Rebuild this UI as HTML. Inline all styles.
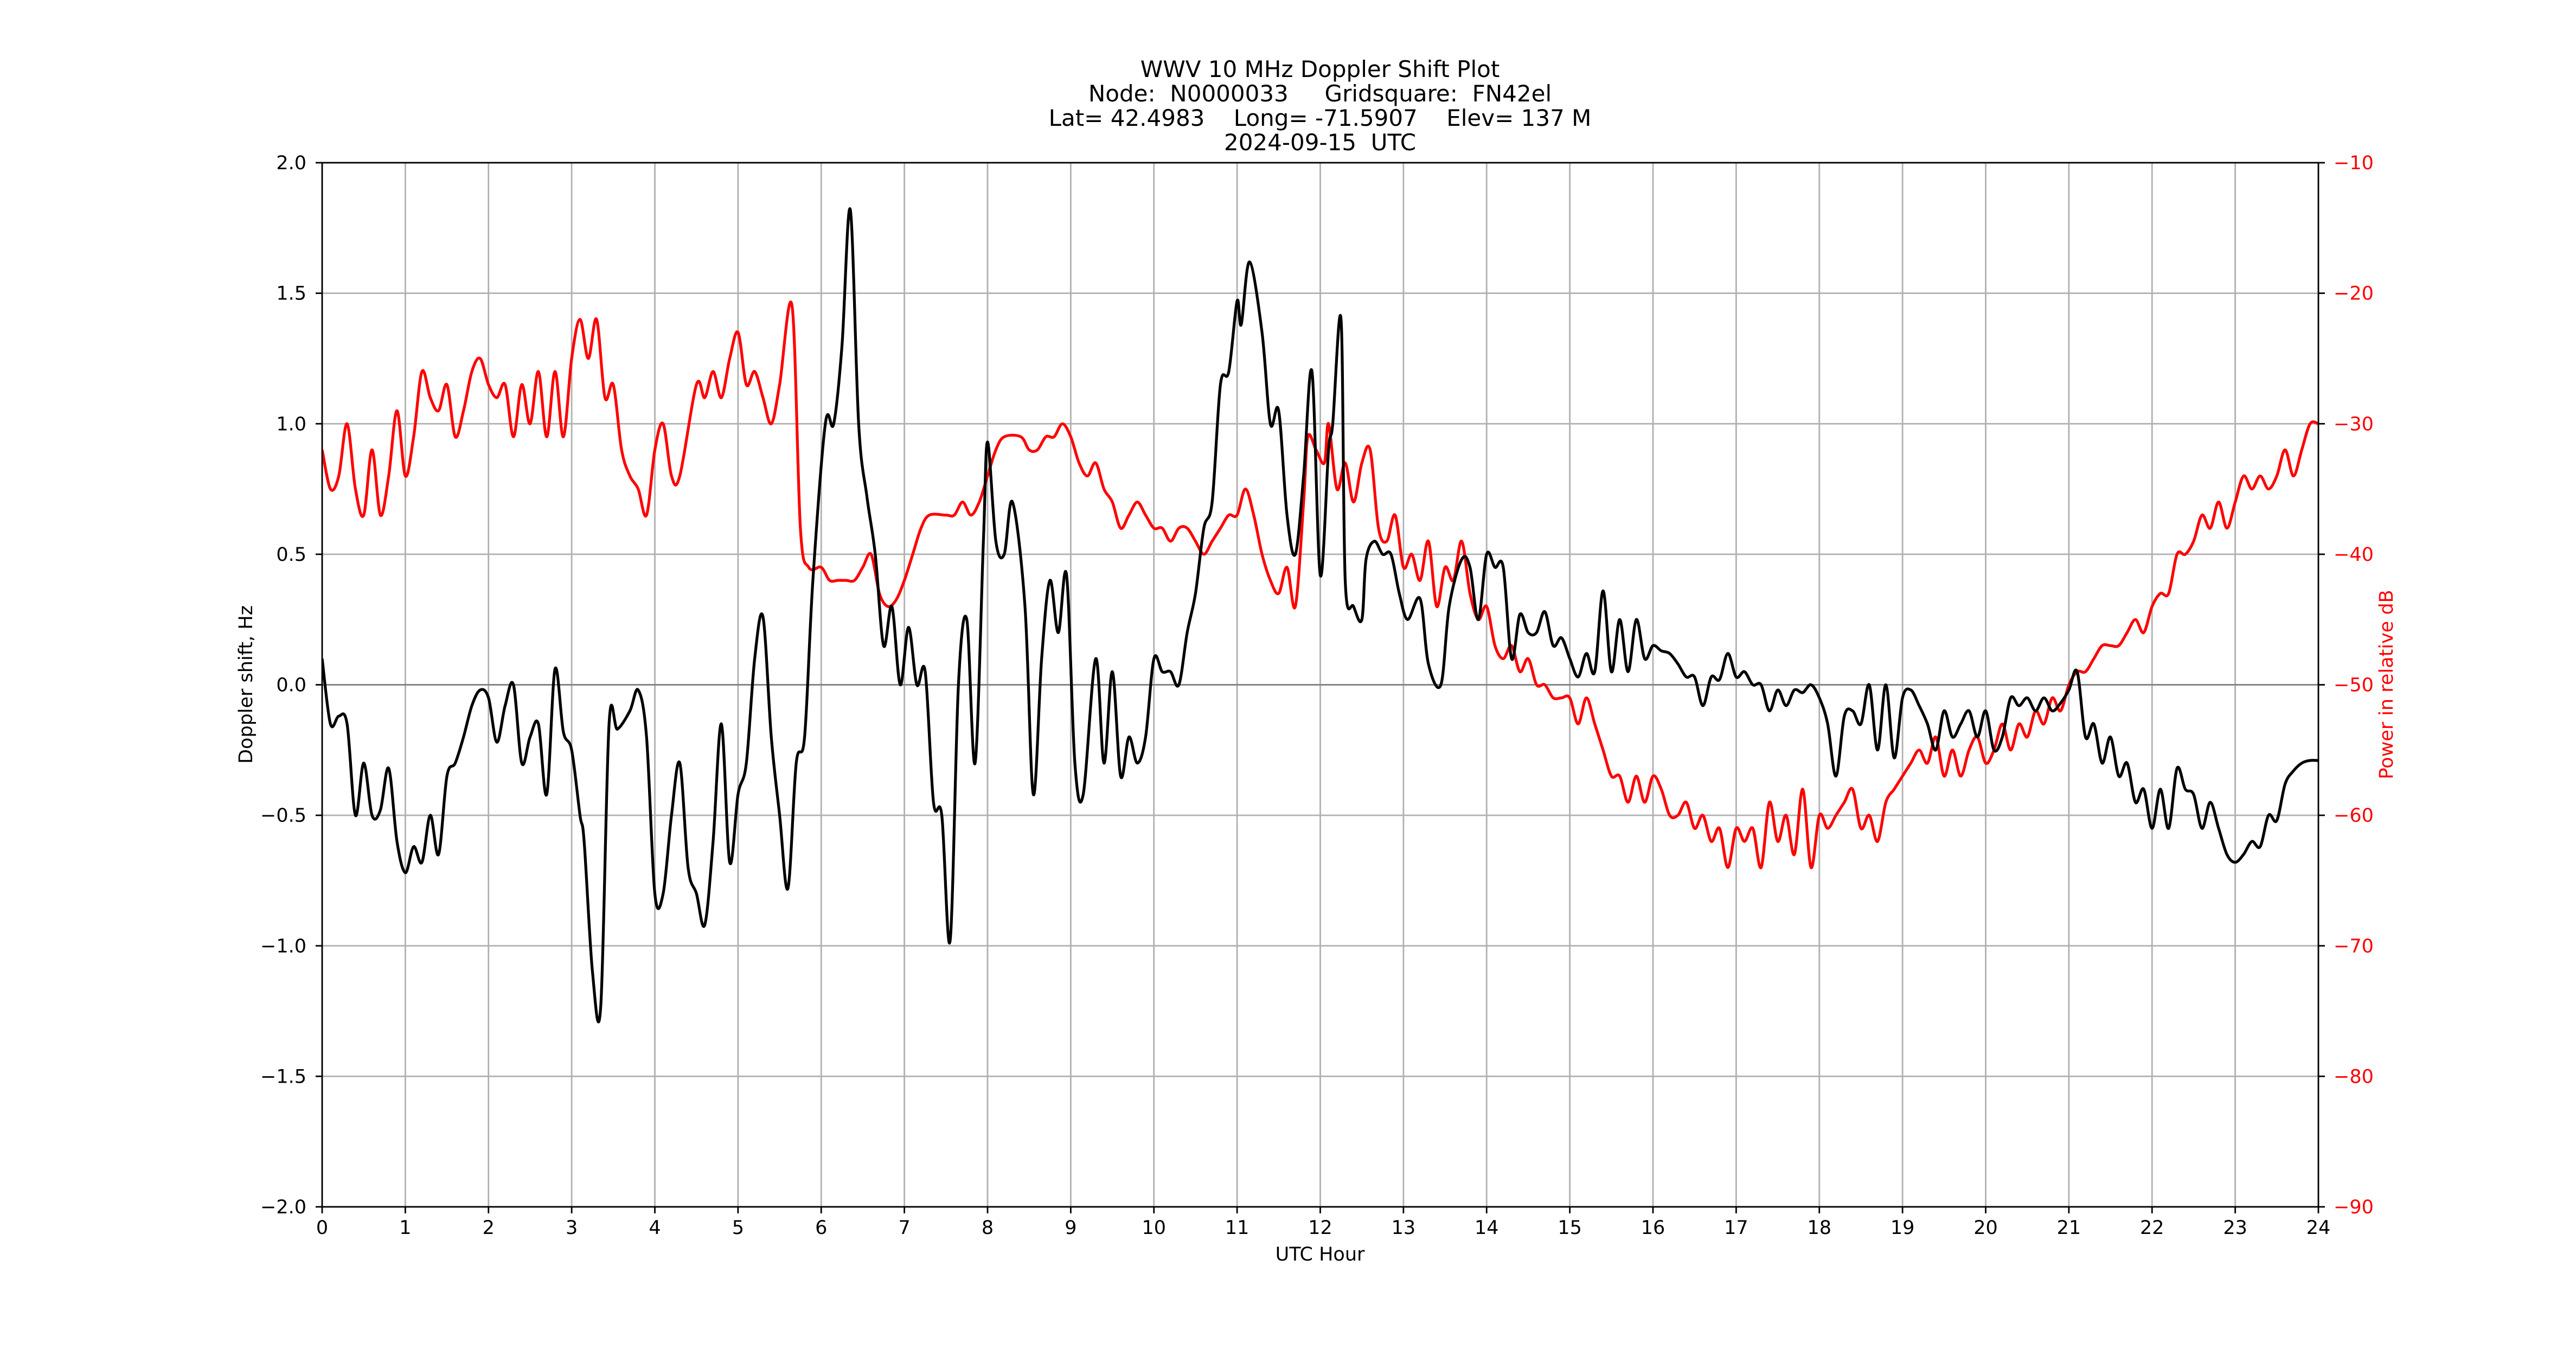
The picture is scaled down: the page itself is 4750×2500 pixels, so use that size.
<!DOCTYPE html>
<html><head><meta charset="utf-8"><style>
html,body{margin:0;padding:0;background:#fff;}
svg{display:block;font-family:"DejaVu Sans","Liberation Sans",sans-serif;}
</style></head><body>
<svg id="chart" xmlns="http://www.w3.org/2000/svg" width="4750" height="2500" viewBox="0 0 4750 2500">
<rect x="0" y="0" width="4750" height="2500" fill="#fff"/>
<g font-size="42" text-anchor="middle" fill="#000">
<text x="2434" y="142" xml:space="preserve">WWV 10 MHz Doppler Shift Plot</text>
<text x="2434" y="187" xml:space="preserve">Node:  N0000033     Gridsquare:  FN42el</text>
<text x="2434" y="232" xml:space="preserve">Lat= 42.4983    Long= -71.5907    Elev= 137 M</text>
<text x="2434" y="277" xml:space="preserve">2024-09-15  UTC</text>
</g>
<g id="grid"></g>
<g id="series"></g>
<g id="axes"></g>
<text x="2434" y="2324" font-size="35" text-anchor="middle">UTC Hour</text>
<text x="0" y="0" font-size="35" text-anchor="middle" transform="translate(465,1262) rotate(-90)">Doppler shift, Hz</text>
<text x="0" y="0" font-size="35" fill="#ff0000" text-anchor="middle" transform="translate(4412,1262) rotate(-90)">Power in relative dB</text>
</svg>
<script>
const hourTicks = [0,1,2,3,4,5,6,7,8,9,10,11,12,13,14,15,16,17,18,19,20,21,22,23,24];
const hzTicks = [-2.0,-1.5,-1.0,-0.5,0.0,0.5,1.0,1.5,2.0];
const dbTicks = [-90,-80,-70,-60,-50,-40,-30,-20,-10];
const dopplerHours = [0,0.1,0.2,0.3,0.4,0.5,0.6,0.7,0.8,0.9,1.0,1.1,1.2,1.3,1.4,1.5,1.6,1.7,1.8,1.9,2.0,2.1,2.2,2.3,2.4,2.5,2.6,2.7,2.8,2.9,3.0,3.1,3.15,3.25,3.35,3.45,3.55,3.7,3.8,3.9,4.0,4.1,4.2,4.3,4.4,4.5,4.6,4.7,4.8,4.9,5.0,5.1,5.2,5.3,5.4,5.5,5.6,5.7,5.8,5.9,6.05,6.15,6.25,6.35,6.45,6.55,6.65,6.75,6.85,6.95,7.05,7.15,7.25,7.35,7.45,7.55,7.65,7.75,7.85,7.95,8.0,8.1,8.2,8.3,8.45,8.55,8.65,8.75,8.85,8.95,9.05,9.15,9.3,9.4,9.5,9.6,9.7,9.8,9.9,10.0,10.1,10.2,10.3,10.4,10.5,10.6,10.7,10.8,10.9,11.0,11.05,11.15,11.3,11.4,11.5,11.6,11.7,11.8,11.9,12.0,12.1,12.15,12.25,12.3,12.4,12.5,12.55,12.65,12.75,12.85,12.95,13.05,13.2,13.3,13.45,13.55,13.7,13.8,13.9,14.0,14.1,14.2,14.3,14.4,14.5,14.6,14.7,14.8,14.9,15.0,15.1,15.2,15.3,15.4,15.5,15.6,15.7,15.8,15.9,16.0,16.1,16.2,16.3,16.4,16.5,16.6,16.7,16.8,16.9,17.0,17.1,17.2,17.3,17.4,17.5,17.6,17.7,17.8,17.9,18.0,18.1,18.2,18.3,18.4,18.5,18.6,18.7,18.8,18.9,19.0,19.1,19.2,19.3,19.4,19.5,19.6,19.7,19.8,19.9,20.0,20.1,20.2,20.3,20.4,20.5,20.6,20.7,20.8,20.9,21.0,21.1,21.2,21.3,21.4,21.5,21.6,21.7,21.8,21.9,22.0,22.1,22.2,22.3,22.4,22.5,22.6,22.7,22.8,22.9,23.0,23.1,23.2,23.3,23.4,23.5,23.6,23.7,23.8,23.9,24.0];
const dopplerHz = [0.1,-0.15,-0.12,-0.15,-0.5,-0.3,-0.5,-0.48,-0.32,-0.6,-0.72,-0.62,-0.68,-0.5,-0.65,-0.35,-0.3,-0.2,-0.08,-0.02,-0.05,-0.22,-0.08,0.0,-0.3,-0.2,-0.15,-0.42,0.06,-0.18,-0.25,-0.5,-0.6,-1.1,-1.23,-0.15,-0.17,-0.1,-0.02,-0.2,-0.8,-0.8,-0.5,-0.3,-0.7,-0.8,-0.92,-0.6,-0.15,-0.68,-0.42,-0.3,0.1,0.26,-0.2,-0.5,-0.78,-0.3,-0.2,0.4,1.0,1.0,1.3,1.82,1.0,0.72,0.5,0.15,0.3,0.0,0.22,0.0,0.05,-0.45,-0.5,-0.98,0.0,0.25,-0.3,0.55,0.93,0.55,0.5,0.7,0.3,-0.42,0.1,0.4,0.2,0.42,-0.3,-0.42,0.1,-0.3,0.05,-0.35,-0.2,-0.3,-0.2,0.1,0.05,0.05,0.0,0.2,0.35,0.6,0.7,1.15,1.2,1.47,1.38,1.62,1.35,1.0,1.05,0.65,0.5,0.8,1.2,0.42,0.9,1.0,1.4,0.4,0.3,0.25,0.48,0.55,0.5,0.5,0.35,0.25,0.33,0.08,0.0,0.3,0.48,0.45,0.25,0.5,0.45,0.45,0.1,0.27,0.2,0.2,0.28,0.15,0.18,0.1,0.03,0.12,0.05,0.36,0.05,0.25,0.05,0.25,0.1,0.15,0.13,0.12,0.08,0.03,0.03,-0.08,0.03,0.02,0.12,0.03,0.05,0.0,0.0,-0.1,-0.02,-0.08,-0.02,-0.03,0.0,-0.05,-0.15,-0.35,-0.12,-0.1,-0.15,0.0,-0.25,0.0,-0.28,-0.05,-0.02,-0.08,-0.15,-0.25,-0.1,-0.2,-0.15,-0.1,-0.2,-0.1,-0.25,-0.2,-0.05,-0.08,-0.05,-0.1,-0.05,-0.1,-0.07,-0.02,0.05,-0.2,-0.15,-0.3,-0.2,-0.35,-0.3,-0.45,-0.4,-0.55,-0.4,-0.55,-0.32,-0.4,-0.42,-0.55,-0.45,-0.55,-0.65,-0.68,-0.65,-0.6,-0.62,-0.5,-0.52,-0.38,-0.33,-0.3,-0.29,-0.29];
const powerHours = [0,0.1,0.2,0.3,0.4,0.5,0.6,0.7,0.8,0.9,1.0,1.1,1.2,1.3,1.4,1.5,1.6,1.7,1.8,1.9,2.0,2.1,2.2,2.3,2.4,2.5,2.6,2.7,2.8,2.9,3.0,3.1,3.2,3.3,3.4,3.5,3.6,3.7,3.8,3.9,4.0,4.1,4.2,4.3,4.5,4.6,4.7,4.8,4.9,5.0,5.1,5.2,5.3,5.4,5.5,5.65,5.75,5.85,6.0,6.1,6.2,6.3,6.4,6.5,6.6,6.7,6.8,6.9,7.0,7.1,7.2,7.3,7.5,7.6,7.7,7.8,7.9,8.0,8.1,8.2,8.4,8.5,8.6,8.7,8.8,8.9,9.0,9.1,9.2,9.3,9.4,9.5,9.6,9.7,9.8,9.9,10.0,10.1,10.2,10.3,10.4,10.5,10.6,10.7,10.8,10.9,11.0,11.1,11.2,11.3,11.4,11.5,11.6,11.7,11.8,11.85,11.95,12.05,12.1,12.2,12.3,12.4,12.5,12.6,12.7,12.8,12.9,13.0,13.1,13.2,13.3,13.4,13.5,13.6,13.7,13.8,13.9,14.0,14.1,14.2,14.3,14.4,14.5,14.6,14.7,14.8,14.9,15.0,15.1,15.2,15.3,15.4,15.5,15.6,15.7,15.8,15.9,16.0,16.1,16.2,16.3,16.4,16.5,16.6,16.7,16.8,16.9,17.0,17.1,17.2,17.3,17.4,17.5,17.6,17.7,17.8,17.9,18.0,18.1,18.2,18.3,18.4,18.5,18.6,18.7,18.8,18.9,19.0,19.1,19.2,19.3,19.4,19.5,19.6,19.7,19.8,19.9,20.0,20.1,20.2,20.3,20.4,20.5,20.6,20.7,20.8,20.9,21.0,21.1,21.2,21.3,21.4,21.5,21.6,21.7,21.8,21.9,22.0,22.1,22.2,22.3,22.4,22.5,22.6,22.7,22.8,22.9,23.0,23.1,23.2,23.3,23.4,23.5,23.6,23.7,23.8,23.9,24.0];
const powerDb = [-32,-35,-34,-30,-35,-37,-32,-37,-34,-29,-34,-31,-26,-28,-29,-27,-31,-29,-26,-25,-27,-28,-27,-31,-27,-30,-26,-31,-26,-31,-25,-22,-25,-22,-28,-27,-32,-34,-35,-37,-32,-30,-34,-34,-27,-28,-26,-28,-25,-23,-27,-26,-28,-30,-27,-21,-38,-41,-41,-42,-42,-42,-42,-41,-40,-43,-44,-43.5,-42,-40,-38,-37,-37,-37,-36,-37,-36,-34,-32,-31,-31,-32,-32,-31,-31,-30,-31,-33,-34,-33,-35,-36,-38,-37,-36,-37,-38,-38,-39,-38,-38,-39,-40,-39,-38,-37,-37,-35,-37,-40,-42,-43,-41,-44,-36,-31,-32,-33,-30,-35,-33,-36,-33,-32,-38,-39,-37,-41,-40,-42,-39,-44,-41,-42,-39,-43,-45,-44,-47,-48,-47,-49,-48,-50,-50,-51,-51,-51,-53,-51,-53,-55,-57,-57,-59,-57,-59,-57,-58,-60,-60,-59,-61,-60,-62,-61,-64,-61,-62,-61,-64,-59,-62,-60,-63,-58,-64,-60,-61,-60,-59,-58,-61,-60,-62,-59,-58,-57,-56,-55,-56,-54,-57,-55,-57,-55,-54,-56,-55,-53,-55,-53,-54,-52,-53,-51,-52,-50,-49,-49,-48,-47,-47,-47,-46,-45,-46,-44,-43,-43,-40,-40,-39,-37,-38,-36,-38,-36,-34,-35,-34,-35,-34,-32,-34,-32,-30,-30];

const NS='http://www.w3.org/2000/svg';
const L=594,R=4275,T=300,B=2225;
function xs(h){return L+(h-0)/(24-0)*(R-L);}
function yHz(v){return B-(v+2)/4*(B-T);}
function yDb(v){return B-(v+90)/80*(B-T);}
function mk(tag,attrs,parent){const e=document.createElementNS(NS,tag);for(const k in attrs)e.setAttribute(k,attrs[k]);parent.appendChild(e);return e;}
const grid=document.getElementById('grid'),axes=document.getElementById('axes'),series=document.getElementById('series');
hourTicks.forEach(h=>{
  const g=mk('line',{x1:xs(h),x2:xs(h),y1:T,y2:B,stroke:'#b0b0b0','stroke-width':2.8},grid);
  
  
  const t=mk('line',{x1:xs(h),x2:xs(h),y1:B,y2:B+12,stroke:'#000','stroke-width':2.8},axes);
  
  
  const lb=mk('text',{x:xs(h),y:2275,'font-size':35,'text-anchor':'middle'},axes);
  lb.textContent=String(h);
  
  
});
hzTicks.forEach(v=>{
  const g=mk('line',{x1:L,x2:R,y1:yHz(v),y2:yHz(v),stroke:'#b0b0b0','stroke-width':2.8},grid);
  
  
  const t=mk('line',{x1:L-12,x2:L,y1:yHz(v),y2:yHz(v),stroke:'#000','stroke-width':2.8},axes);
  
  
  const lb=mk('text',{x:565,y:yHz(v)+12,'font-size':35,'text-anchor':'end'},axes);
  lb.textContent=(v<0?'\u2212':'')+Math.abs(v).toFixed(1);
  
  
});
dbTicks.forEach(v=>{
  const t=mk('line',{x1:R,x2:R+12,y1:yDb(v),y2:yDb(v),stroke:'#000','stroke-width':2.8},axes);
  
  
  const lb=mk('text',{x:4303,y:yDb(v)+12,'font-size':35,fill:'#ff0000'},axes);
  lb.textContent=(v<0?'\u2212':'')+Math.abs(v);
  
  
});
const zl=mk('line',{x1:L,x2:R,y1:yHz(0),y2:yHz(0),stroke:'#808080','stroke-width':2.8},grid);


function smooth(px){let d='M'+px[0][0].toFixed(1)+','+px[0][1].toFixed(1);
  for(let i=0;i<px.length-1;i++){const p0=px[Math.max(0,i-1)],p1=px[i],p2=px[i+1],p3=px[Math.min(px.length-1,i+2)];
    const c1x=p1[0]+(p2[0]-p0[0])/6,c1y=p1[1]+(p2[1]-p0[1])/6,c2x=p2[0]-(p3[0]-p1[0])/6,c2y=p2[1]-(p3[1]-p1[1])/6;
    d+=' C'+c1x.toFixed(1)+','+c1y.toFixed(1)+' '+c2x.toFixed(1)+','+c2y.toFixed(1)+' '+p2[0].toFixed(1)+','+p2[1].toFixed(1);}
  return d;}
const cp=mk('clipPath',{id:'plotclip'},series);mk('rect',{x:L,y:T,width:R-L,height:B-T},cp);
const pr=mk('path',{d:smooth(powerHours.map((h,i)=>[xs(h),yDb(powerDb[i])])),fill:'none',stroke:'#ff0000','stroke-width':5.2,'stroke-linejoin':'round','clip-path':'url(#plotclip)'},series);


const pb=mk('path',{d:smooth(dopplerHours.map((h,i)=>[xs(h),yHz(dopplerHz[i])])),fill:'none',stroke:'#000','stroke-width':5.2,'stroke-linejoin':'round','clip-path':'url(#plotclip)'},series);


const fr=mk('rect',{x:L,y:T,width:R-L,height:B-T,fill:'none',stroke:'#000','stroke-width':2.8},axes);


</script>
</body></html>
